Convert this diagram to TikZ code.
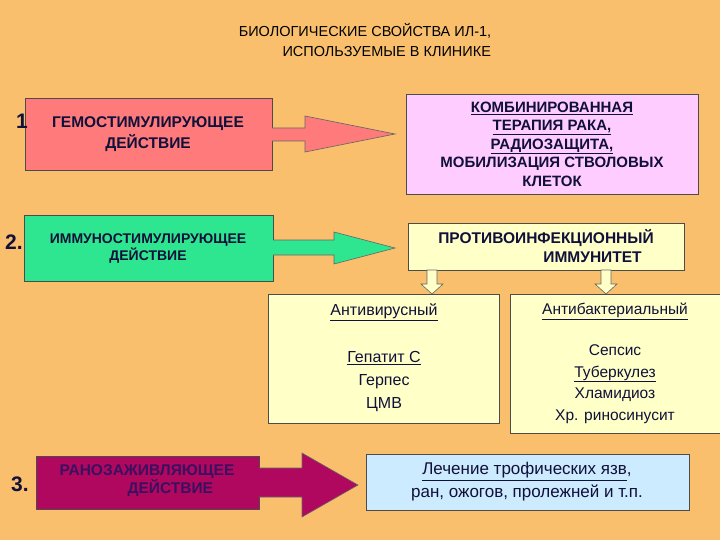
\documentclass[tikz,border=0pt]{standalone}
\usepackage{fontspec}
\setmainfont{Liberation Sans}
\definecolor{bg}{HTML}{F9BF6C}
\definecolor{navy}{HTML}{10103A}
\definecolor{redf}{HTML}{FF7B7B}
\definecolor{pinkf}{HTML}{FFCCFF}
\definecolor{greenf}{HTML}{2EE68F}
\definecolor{yelf}{HTML}{FFFFC8}
\definecolor{magf}{HTML}{B0085E}
\definecolor{bluef}{HTML}{CDEBFF}
\definecolor{magt}{HTML}{3A1060}
\begin{document}
\begin{tikzpicture}[x=1pt,y=-1pt,
  box/.style={draw=black!70,line width=0.8pt,inner sep=0pt},
  txt/.style={align=center,text=navy,font=\bfseries\fontsize{15.5}{17}\selectfont},
  num/.style={font=\bfseries\fontsize{21}{22}\selectfont,text=navy},
  fat/.style={draw=black!60,line width=0.6pt}]
\fill[bg] (0,0) rectangle (720,540);
\useasboundingbox (0,0) rectangle (720,540);
\node[align=center,font=\fontsize{14.5}{20}\selectfont] (title) at (365,40) {БИОЛОГИЧЕСКИЕ СВОЙСТВА ИЛ-1,\\\hspace*{3em}ИСПОЛЬЗУЕМЫЕ В КЛИНИКЕ};
% row 1
\draw[box,fill=redf] (25,98) rectangle (272,170);
\node[txt] (t1) at (148,134) {ГЕМОСТИМУЛИРУЮЩЕЕ\\[3pt]ДЕЙСТВИЕ};
\node[num] (n1) at (22,121) {1};
\draw[fat,fill=redf] (272,128) -- (305,128) -- (305,116) -- (395,134) -- (305,152) -- (305,141) -- (272,141);
\draw[box,fill=pinkf] (406,94) rectangle (698,194);
\node[txt,font=\bfseries\fontsize{15}{18.5}\selectfont] (t1b) at (552,144) {\underline{КОМБИНИРОВАННАЯ}\\\underline{ТЕРАПИЯ РАКА,}\\\underline{РАДИОЗАЩИТА,}\\МОБИЛИЗАЦИЯ СТВОЛОВЫХ\\КЛЕТОК};
% row 2
\draw[box,fill=greenf] (24,215) rectangle (273,281);
\node[txt,font=\bfseries\fontsize{14}{17}\selectfont] (t2) at (148,249) {ИММУНОСТИМУЛИРУЮЩЕЕ\\ДЕЙСТВИЕ};
\node[num] (n2) at (14,242) {2.};
\draw[fat,fill=greenf] (273,240) -- (334,240) -- (334,232) -- (395,248) -- (334,264) -- (334,255) -- (273,255);
\draw[box,fill=yelf] (408,223) rectangle (684,270);
\node[txt] (t2b) at (546,246) {ПРОТИВОИНФЕКЦИОННЫЙ\\[2pt]\hspace*{6em}ИММУНИТЕТ};
\draw[fat,fill=yelf] (427,270) -- (437,270) -- (437,284) -- (443,284) -- (432,294) -- (421,284) -- (427,284) -- cycle;
\draw[fat,fill=yelf] (601,270) -- (611,270) -- (611,284) -- (617,284) -- (606,294) -- (595,284) -- (601,284) -- cycle;
\draw[box,fill=yelf] (268,294) rectangle (499,423);
\draw[box,fill=yelf] (510,294) rectangle (722,433);
\node[txt,font=\fontsize{16}{18}\selectfont] (av) at (384,312) {\underline{Антивирусный}};
\node[txt,font=\fontsize{16}{23}\selectfont] (av2) at (384,382) {\underline{Гепатит С}\\Герпес\\ЦМВ};
\node[txt,font=\fontsize{15.5}{18}\selectfont] (ab) at (615,311) {\underline{Антибактериальный}};
\node[txt,font=\fontsize{15.5}{21.5}\selectfont] (ab2) at (615,384) {Сепсис\\\underline{Туберкулез}\\Хламидиоз\\Хр. риносинусит};
% row 3
\draw[box,fill=magf] (36,456) rectangle (259,509);
\node[txt,text=magt] (t3) at (147,481) {РАНОЗАЖИВЛЯЮЩЕЕ\\\hspace*{3em}ДЕЙСТВИЕ};
\node[num] (n3) at (20,484) {3.};
\draw[fat,fill=magf] (259,468) -- (302,468) -- (302,453) -- (358,485) -- (302,517) -- (302,497) -- (259,497);
\draw[box,fill=bluef] (366,454) rectangle (689,510);
\node[txt,font=\fontsize{17}{23}\selectfont] (t3b) at (527,482) {\underline{Лечение трофических язв},\\ран, ожогов, пролежней и т.п.};
\end{tikzpicture}
\end{document}
